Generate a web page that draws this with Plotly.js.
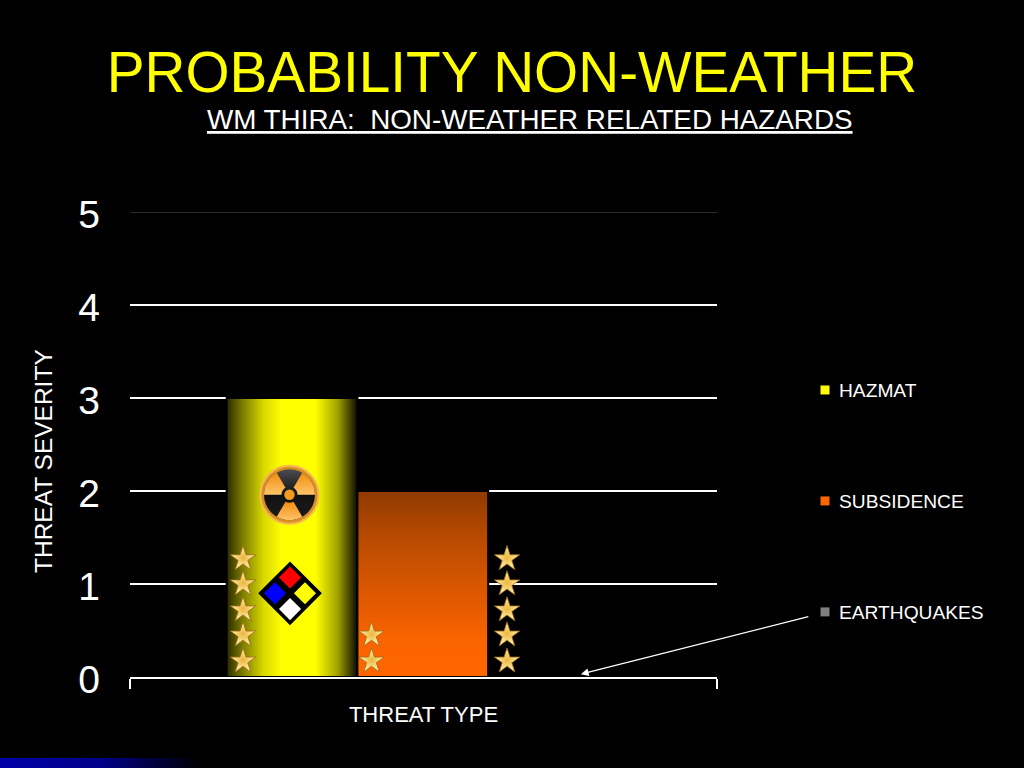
<!DOCTYPE html>
<html><head><meta charset="utf-8">
<script src="https://cdn.plot.ly/plotly-3.0.1.min.js"></script>
<style>html,body{margin:0;padding:0;background:#000;overflow:hidden}#chart{width:1024px;height:768px}</style>
</head><body><div id="chart"></div>
<script>
// Chart values
const seriesNames = ['HAZMAT', 'SUBSIDENCE', 'EARTHQUAKES'];
const seriesValues = [3, 2, 0];
const seriesColors = ['#ffff00', '#ff6600', '#808080'];
const yTicks = [0, 1, 2, 3, 4, 5];

// Star ratings drawn beside each bar
const hazmatStarsY = [0.17, 0.45, 0.72, 1.0, 1.27];
const subsidenceStarsY = [0.17, 0.45];
const earthquakeStarsY = [0.17, 0.45, 0.72, 1.0, 1.27];

const starTrace = (x, ys) => ({
  type: 'scatter', mode: 'markers', showlegend: false, hoverinfo: 'skip',
  x: ys.map(() => x), y: ys,
  marker: {symbol: 'star', size: 19, color: '#fff6b8',
    gradient: {type: 'radial', color: '#ecb53c'},
    line: {color: '#a06810', width: 0.8}}
});
const diamondTrace = (xs, ys, colors, size) => ({
  type: 'scatter', mode: 'markers', showlegend: false, hoverinfo: 'skip',
  x: xs, y: ys, marker: {symbol: 'diamond', size: size, color: colors, line: {width: 0}}
});

const bars = seriesNames.map((n, i) => ({
  type: 'bar', name: n, x: [-0.0012], y: [seriesValues[i]], legendgroup: n,
  marker: {color: seriesColors[i], line: {color: '#000', width: 2}}
}));

const radiationSvg = `<svg xmlns="http://www.w3.org/2000/svg" viewBox="-32 -32 64 64" width="256" height="256">
<defs><linearGradient id="o" x1="0" y1="0" x2="0" y2="1"><stop offset="0" stop-color="#f08c10"/><stop offset="1" stop-color="#ffc468"/></linearGradient>
<linearGradient id="k" x1="0" y1="0" x2="0" y2="1"><stop offset="0" stop-color="#4c4c50"/><stop offset="0.5" stop-color="#111"/><stop offset="1" stop-color="#1c1c1c"/></linearGradient></defs>
<circle cx="0" cy="0" r="29" fill="#d88f22" stroke="#f8b850" stroke-width="2"/>
<circle cx="0" cy="0" r="25.5" fill="url(#k)"/>
<path d="M-8,0 L-25.5,0 A25.5,25.5 0 0 1 -12.75,-22.08 L-4,-6.93 A8,8 0 0 0 -8,0 Z" fill="url(#o)"/>
<path d="M8,0 L25.5,0 A25.5,25.5 0 0 0 12.75,-22.08 L4,-6.93 A8,8 0 0 1 8,0 Z" fill="url(#o)"/>
<path d="M-4,6.93 L-12.75,22.08 A25.5,25.5 0 0 0 12.75,22.08 L4,6.93 A8,8 0 0 1 -4,6.93 Z" fill="url(#o)"/>
<circle cx="0" cy="0" r="5.2" fill="#f09a20"/></svg>`;
const stripSvg = `<svg xmlns="http://www.w3.org/2000/svg" width="200" height="10" preserveAspectRatio="none"><defs><linearGradient id="b"><stop offset="0" stop-color="#0000a8"/><stop offset="0.5" stop-color="#00008a"/><stop offset="1" stop-color="#000"/></linearGradient></defs><rect width="200" height="10" fill="url(#b)"/></svg>`;
const uri = s => 'data:image/svg+xml;charset=utf-8,' + encodeURIComponent(s);

const data = [
  ...bars,
  diamondTrace([-0.2274], [0.90], ['#000'], 49),
  diamondTrace([-0.2274, -0.2019, -0.2529, -0.2274], [1.07, 0.90, 0.90, 0.73], ['#ff0000', '#ffff00', '#0000ff', '#ffffff'], 17),
  starTrace(-0.3075, hazmatStarsY),
  starTrace(-0.0886, subsidenceStarsY),
  starTrace(0.1423, earthquakeStarsY)
];

const FONT = 'Liberation Sans, Arial, sans-serif';
const layout = {
  width: 1024, height: 768, autosize: false,
  paper_bgcolor: '#000', plot_bgcolor: '#000',
  margin: {l: 130, r: 307, t: 212, b: 91, pad: 0},
  font: {family: FONT, color: '#fff'},
  barmode: 'group', bargap: 0.3318, bargroupgap: 0,
  title: {text: 'PROBABILITY NON-WEATHER', font: {family: FONT, size: 56.7, color: '#ffff00'},
    x: 0.5, xanchor: 'center', xref: 'container', y: 0.906, yanchor: 'middle', yref: 'container'},
  xaxis: {type: 'linear', range: [-0.5, 0.5], tickvals: [-0.5, 0.5], ticktext: ['', ''], ticks: 'outside', ticklen: 10, tickwidth: 2, tickcolor: '#fff',
    showline: true, linecolor: '#fff', linewidth: 2, showgrid: false, zeroline: false,
    title: {text: 'THREAT TYPE', font: {size: 22, color: '#fff'}, standoff: 16}},
  yaxis: {range: [0, 5], tickvals: yTicks, ticks: '', tickfont: {size: 39, color: '#fff'}, ticklabelstandoff: 29, ticklabelshift: 2,
    showline: false, zeroline: false, showgrid: true, gridcolor: '#fff', gridwidth: 2},
  showlegend: true,
  legend: {x: (799 - 130) / 587, xanchor: 'left', y: (677 - 371) / 465, yanchor: 'top', traceorder: 'grouped', tracegroupgap: 83,
    font: {size: 19.2, color: '#fff'}, bgcolor: 'rgba(0,0,0,0)', itemwidth: 30},
  shapes: [
    {type: 'line', xref: 'x', yref: 'y', x0: -0.5, x1: 0.5, y0: 5, y1: 5, layer: 'above', line: {color: '#2b2b2b', width: 2}}
  ],
  annotations: [
    {xref: 'paper', yref: 'paper', x: (529.5 - 130) / 587, y: (677 - 119) / 465, xanchor: 'center', yanchor: 'middle', showarrow: false,
      text: 'WM THIRA:&nbsp; NON-WEATHER RELATED HAZARDS', font: {size: 27.8, color: '#fff', lineposition: 'under'}},
    {xref: 'paper', yref: 'paper', x: (43 - 130) / 587, y: (677 - 461) / 465, xanchor: 'center', yanchor: 'middle', textangle: -90, showarrow: false,
      text: 'THREAT SEVERITY', font: {size: 24.5, color: '#fff'}},
    {xref: 'x', yref: 'y', x: 0.268, y: 0.03, ax: 229, ay: -58, axref: 'pixel', ayref: 'pixel', text: '', showarrow: true,
      arrowhead: 2, arrowsize: 1.2, arrowwidth: 1.3, arrowcolor: '#fff'}
  ],
  images: [
    {source: uri(radiationSvg), xref: 'x', yref: 'y', x: -0.2283, y: 1.96, sizex: 64 / 587, sizey: 64 / 93, xanchor: 'center', yanchor: 'middle', sizing: 'stretch', layer: 'above'},
    {source: uri(stripSvg), xref: 'paper', yref: 'paper', x: -130 / 587, y: (677 - 758) / 465, sizex: 200 / 587, sizey: 10 / 465, xanchor: 'left', yanchor: 'top', sizing: 'stretch', layer: 'below'}
  ]
};

Plotly.newPlot('chart', data, layout, {staticPlot: true, displayModeBar: false}).then(gd => {
  const svg = gd.querySelector('.main-svg');
  const NS = 'http://www.w3.org/2000/svg';
  const defs = svg.querySelector('defs') || svg.insertBefore(document.createElementNS(NS, 'defs'), svg.firstChild);
  const grad = (id, horizontal, stops) => {
    const g = document.createElementNS(NS, 'linearGradient');
    g.setAttribute('id', id);
    g.setAttribute('x1', 0); g.setAttribute('y1', 0);
    g.setAttribute('x2', horizontal ? 1 : 0); g.setAttribute('y2', horizontal ? 0 : 1);
    stops.forEach(([o, c]) => {
      const s = document.createElementNS(NS, 'stop');
      s.setAttribute('offset', o); s.setAttribute('stop-color', c); g.appendChild(s);
    });
    defs.appendChild(g);
  };
  grad('hazmatFill', true, [[0, '#2a2a00'], [0.12, '#7a7a00'], [0.28, '#d8d800'], [0.42, '#ffff00'], [0.68, '#ffff00'], [0.85, '#a0a000'], [1, '#0a0a00']]);
  grad('subsidenceFill', false, [[0, '#8f3a00'], [0.25, '#b84a00'], [0.55, '#dd5800'], [0.8, '#fa6400'], [1, '#ff6600']]);
  const paths = gd.querySelectorAll('.barlayer .trace .point path');
  if (paths[0]) paths[0].style.fill = 'url(#hazmatFill)';
  if (paths[1]) paths[1].style.fill = 'url(#subsidenceFill)';
  gd.querySelectorAll('.legend .legendpoints path').forEach(p => {
    p.setAttribute('d', 'M10.5,4.5H1.5V-4.5H10.5Z');
    p.style.strokeWidth = '0';
  });
});
</script></body></html>
